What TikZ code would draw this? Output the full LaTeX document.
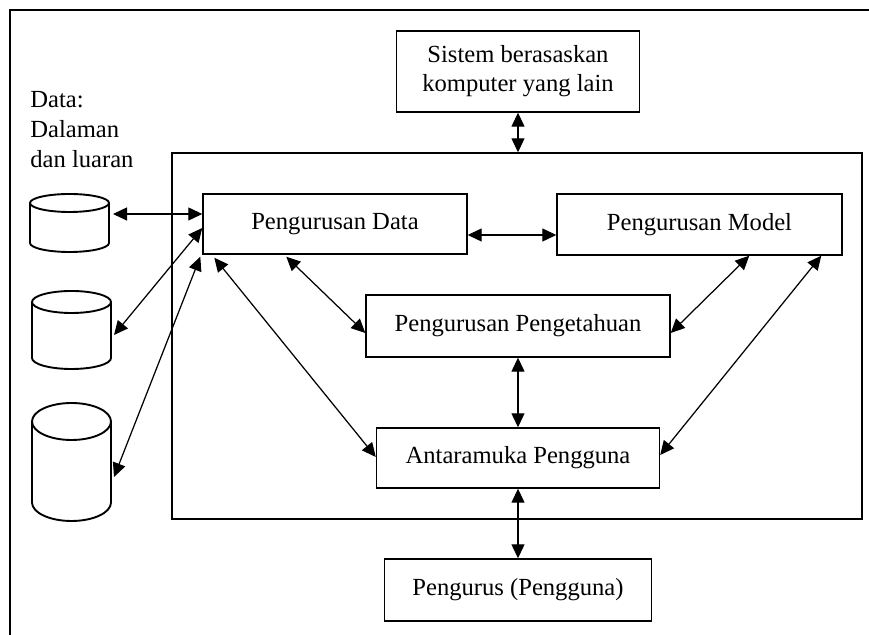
\documentclass[tikz,border=0pt]{standalone}
\usepackage{fontspec}
\setmainfont{Liberation Serif}
\usetikzlibrary{arrows.meta,calc}
\begin{document}
\begin{tikzpicture}[x=0.5pt,y=-0.5pt,
  every node/.style={font=\fontsize{12.3}{14.5}\selectfont},
  block/.style={draw, line width=0.7pt, inner sep=0pt, align=center},
  drum/.style={line width=0.95pt},
  dbl/.style={{Triangle[length=7pt,width=6.5pt]}-{Triangle[length=7pt,width=6.5pt]}, line width=0.62pt}]
\useasboundingbox (0,0) rectangle (869,635);

% frame
\draw[line width=0.75pt] (10,635) -- (10,10) -- (869,10);

% boxes
\node[block, minimum width=345pt, minimum height=183pt] (main) at (517,336) {};
\node[block, minimum width=121.5pt, minimum height=40.5pt] (sys) at (518,71.5)
  {Sistem berasaskan\\komputer yang lain};
\node[block, minimum width=132pt, minimum height=30pt] (data) at (335,224) {Pengurusan Data};
\node[block, minimum width=142.5pt, minimum height=30.5pt] (model) at (699.5,224.5) {Pengurusan Model};
\node[block, minimum width=152pt, minimum height=31pt] (know) at (518,326) {Pengurusan Pengetahuan};
\node[block, minimum width=141.5pt, minimum height=30pt] (ui) at (518,458) {Antaramuka Pengguna};
\node[block, minimum width=133.5pt, minimum height=31pt] (user) at (518,590) {Pengurus (Pengguna)};

% data stores label
\node[anchor=north west, inner sep=0pt, align=left, font=\fontsize{12.3}{15}\selectfont] (lbl) at (30,91) {Data:\\Dalaman\\dan luaran};

% data stores
\draw[drum] (69.5,203) ellipse [x radius=39.5, y radius=9];
\draw[drum] (30,203) -- (30,243) arc[start angle=180, end angle=0, x radius=39.5, y radius=9] -- (109,203);
\draw[drum] (71.5,302) ellipse [x radius=39.5, y radius=11];
\draw[drum] (32,302) -- (32,358) arc[start angle=180, end angle=0, x radius=39.5, y radius=11] -- (111,302);
\draw[drum] (71.5,421.5) ellipse [x radius=39.5, y radius=18.5];
\draw[drum] (32,421.5) -- (32,502.5) arc[start angle=180, end angle=0, x radius=39.5, y radius=18.5] -- (111,421.5);

\coordinate (c1r) at (113,214);
\coordinate (c2r) at (114,335);
\coordinate (c3r) at (114,477);

% connectors
\draw[dbl] (c1r) -- (c1r -| data.west);
\draw[dbl] (c2r) -- ($(data.west)+(0,4)$);
\draw[dbl] (c3r) -- ($(data.south west)+(-2,2)$);
\draw[dbl] ($(data.south west)+(12,3)$) -- ($(ui.west)+(0,-1)$);
\draw[dbl] ($(data.south west)+(84,2)$) -- ($(know.west)+(0,7)$);
\draw[dbl] ($(data.east)+(0,11)$) -- ($(model.west)+(0,10.5)$);
\draw[dbl] ($(model.south west)+(193,0)$) -- ($(know.east)+(0,7)$);
\draw[dbl] ($(model.south west)+(265,0)$) -- ($(ui.east)+(0,-3)$);
\draw[dbl] (know.south) -- (ui.north);
\draw[dbl] (sys.south) -- (sys.south |- main.north);
\draw[dbl] (ui.south) -- (user.north);
\end{tikzpicture}
\end{document}
